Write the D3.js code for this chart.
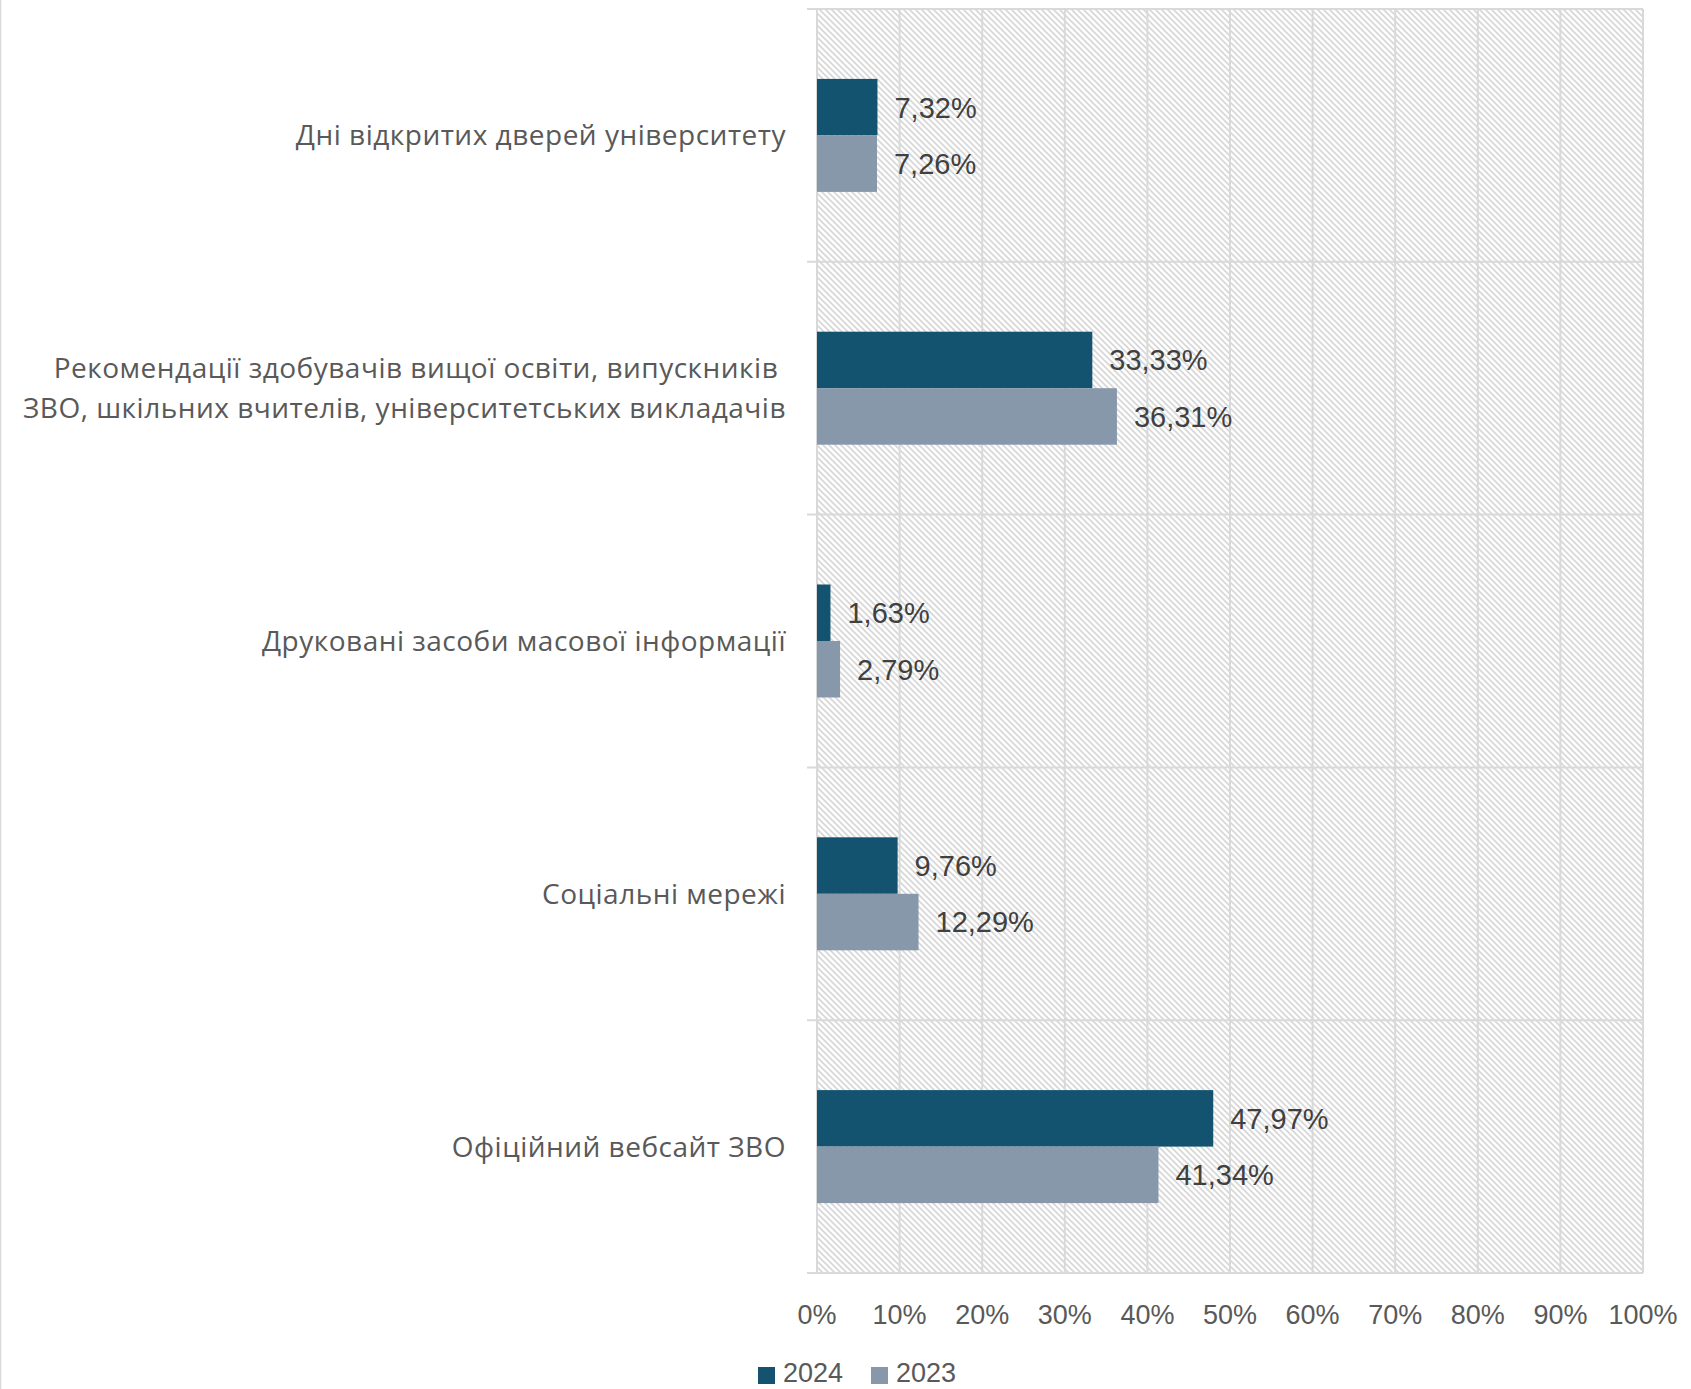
<!DOCTYPE html>
<html><head><meta charset="utf-8">
<script src="https://cdn.jsdelivr.net/npm/d3@7"></script>
<style>html,body{margin:0;padding:0;background:#fff;} svg{display:block;}</style>
</head><body>
<svg id="c" width="1691" height="1389"></svg>
<script>
const categories = [
  ["Дні відкритих дверей університету"],
  ["Рекомендації здобувачів вищої освіти, випускників ", "ЗВО, шкільних вчителів, університетських викладачів"],
  ["Друковані засоби масової інформації"],
  ["Соціальні мережі"],
  ["Офіційний вебсайт ЗВО"]
];
const seriesNames = ["2024", "2023"];
const values2024 = [7.32, 33.33, 1.63, 9.76, 47.97];
const values2023 = [7.26, 36.31, 2.79, 12.29, 41.34];
const xTicks = [0,10,20,30,40,50,60,70,80,90,100];
const colors = {"2024":"#13536F","2023":"#8798AA"};

(function(){
const svg = d3.select("#c");
const FONT = "'Liberation Sans', Arial, sans-serif";
const CFONT = "'Open Sans', 'Liberation Sans', sans-serif";
const pLeft = 817, pRight = 1643, pTop = 9, pBottom = 1273;

const defs = svg.append("defs");
const pat = defs.append("pattern").attr("id","hatch").attr("patternUnits","userSpaceOnUse")
  .attr("width",6).attr("height",6);
pat.append("rect").attr("width",6).attr("height",6).attr("fill","#fff");
pat.append("path").attr("d","M-1,-1 L7,7 M-1,5 L1,7 M5,-1 L7,1").attr("stroke","#d6d6d6").attr("stroke-width",1.6);

svg.append("line").attr("x1",0.5).attr("x2",0.5).attr("y1",0).attr("y2",1389).attr("stroke","#d9d9d9").attr("stroke-width",1.5);

const x = d3.scaleLinear().domain([0,100]).range([pLeft,pRight]);
const idx = d3.range(categories.length);
const y0 = d3.scaleBand().domain(idx).range([pTop,pBottom]);
const bw = y0.bandwidth();
const barH = 56.5;
const y1 = d3.scaleBand().domain(seriesNames).range([(bw-2*barH)/2,(bw+2*barH)/2]);

svg.append("rect").attr("x",pLeft).attr("y",pTop).attr("width",pRight-pLeft).attr("height",pBottom-pTop).attr("fill","url(#hatch)");

svg.append("g").selectAll("line").data(xTicks).join("line")
  .attr("x1",d=>x(d)).attr("x2",d=>x(d)).attr("y1",pTop).attr("y2",pBottom)
  .attr("stroke","#d9d9d9").attr("stroke-width",2);

const bounds = idx.map(i=>y0(i)).concat([pBottom]);
svg.append("g").selectAll("line").data(bounds).join("line")
  .attr("x1",pLeft-10).attr("x2",pRight).attr("y1",d=>d).attr("y2",d=>d)
  .attr("stroke","#d9d9d9").attr("stroke-width",2);

const data = [];
idx.forEach(i=>{
  data.push({i, s:"2024", v:values2024[i]});
  data.push({i, s:"2023", v:values2023[i]});
});
svg.append("g").selectAll("rect").data(data).join("rect")
  .attr("x",x(0)).attr("y",d=>y0(d.i)+y1(d.s))
  .attr("width",d=>x(d.v)-x(0)).attr("height",y1.bandwidth())
  .attr("fill",d=>colors[d.s]);

svg.append("g").selectAll("text").data(data).join("text")
  .attr("x",d=>x(d.v)+17).attr("y",d=>y0(d.i)+y1(d.s)+y1.bandwidth()/2)
  .attr("dy","0.36em").attr("font-family",FONT).attr("font-size",29).attr("fill","#404040")
  .text(d=>d.v.toFixed(2).replace(".",",")+"%");

const cg = svg.append("g");
idx.forEach(i=>{
  const lines = categories[i];
  const cy = y0(i)+bw/2;
  const lh = 40;
  lines.forEach((t,k)=>{
    cg.append("text").attr("x",786).attr("y",cy+(k-(lines.length-1)/2)*lh)
      .attr("dy","0.36em").attr("text-anchor","end").style("white-space","pre")
      .attr("font-family",CFONT).attr("font-size",28).attr("letter-spacing",0.5).attr("fill","#595959").text(t);
  });
});

svg.append("g").selectAll("text").data(xTicks).join("text")
  .attr("x",d=>x(d)).attr("y",1314).attr("dy","0.36em").attr("text-anchor","middle")
  .attr("font-family",FONT).attr("font-size",27).attr("fill","#595959").text(d=>d+"%");

const lg = svg.append("g");
const legX = [758, 871];
seriesNames.forEach((s,k)=>{
  lg.append("rect").attr("x",legX[k]).attr("y",1367).attr("width",17).attr("height",17).attr("fill",colors[s]);
  lg.append("text").attr("x",legX[k]+25).attr("y",1372).attr("dy","0.36em")
    .attr("font-family",FONT).attr("font-size",27).attr("fill","#595959").text(s);
});
})();
</script>
</body></html>
